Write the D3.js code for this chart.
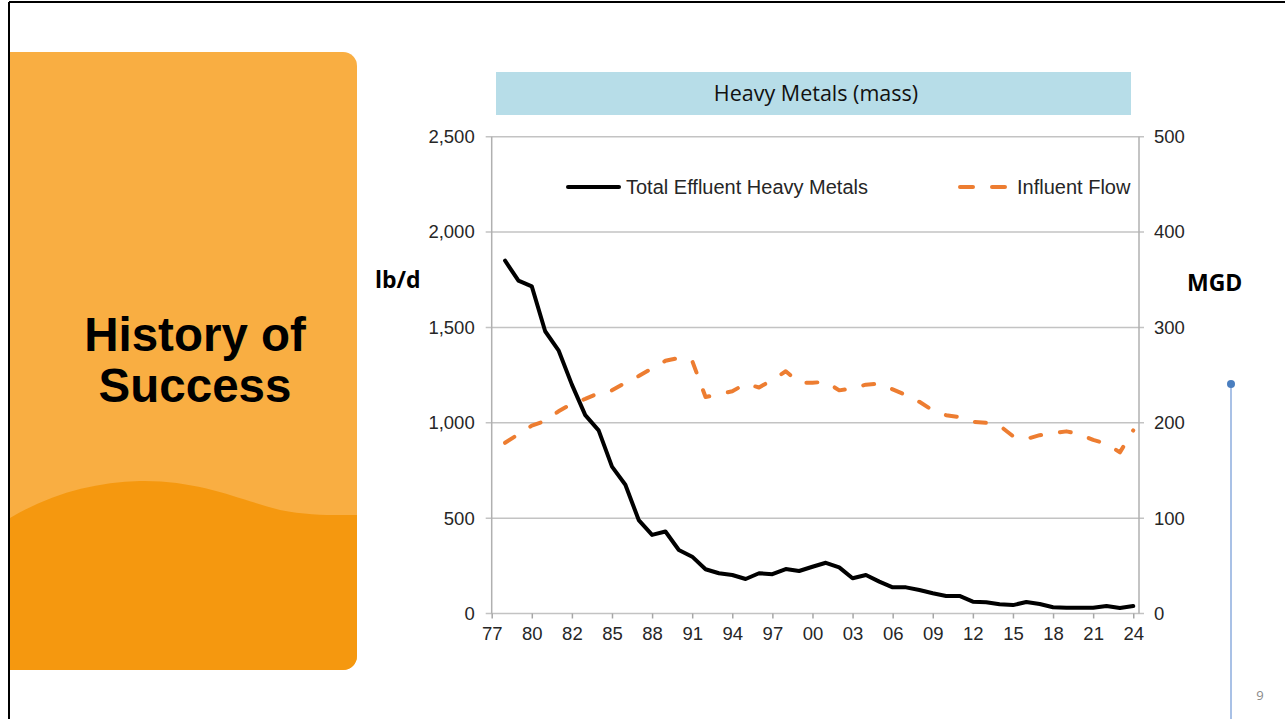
<!DOCTYPE html>
<html lang="en">
<head>
    <meta charset="UTF-8">
    <title>History of Success - Heavy Metals (mass)</title>
    <script src="https://d3js.org/d3.v7.min.js"></script>
    <style>
        body { margin: 0; background: #ffffff; }
        svg { display: block; }
        .chart text { font-family: "Liberation Sans", Arial, sans-serif; fill: #262626; }
        .axis path { display: none; }
        .axis line { stroke: #a6a6a6; stroke-width: 1.5px; }
        .grid line { stroke: #c3c3c3; stroke-width: 1.5px; }
    </style>
</head>
<body>
<div id="slide"></div>
<script>
    // x categories (one point per year) and axis labels as printed on the chart
    const years = [1977, 1978, 1979, 1980, 1981, 1982, 1983, 1984, 1985, 1986, 1987, 1988,
                   1989, 1990, 1991, 1992, 1993, 1994, 1995, 1996, 1997, 1998, 1999, 2000,
                   2001, 2002, 2003, 2004, 2005, 2006, 2007, 2008, 2009, 2010, 2011, 2012,
                   2013, 2014, 2015, 2016, 2017, 2018, 2019, 2020, 2021, 2022, 2023, 2024];
    const xTickLabels = ["77", "80", "82", "85", "88", "91", "94", "97", "00",
                         "03", "06", "09", "12", "15", "18", "21", "24"];

    // Total effluent heavy metals (lb/d, left axis)
    const heavyMetals = [1850, 1745, 1715, 1480, 1380, 1200, 1040, 960, 770, 675, 490, 412,
                         430, 333, 298, 232, 211, 202, 181, 211, 206, 233, 223, 245,
                         266, 242, 185, 202, 167, 137, 137, 123, 106, 92, 92, 62,
                         59, 48, 44, 60, 50, 33, 30, 30, 30, 39, 29, 39];

    // Influent flow (MGD, right axis)
    const influentFlow = [179, 188, 197, 202, 212, 220, 225, 231, 234, 242, 249, 257,
                          265, 268, 265, 227, 230, 233, 241, 237, 245, 254, 242, 242,
                          243, 234, 236, 240, 241, 235, 229, 222, 213, 208, 206, 201,
                          200, 197, 186, 183, 187, 189, 191, 188, 182, 178, 169, 192];

    const leftTicks = [0, 500, 1000, 1500, 2000, 2500];
    const rightTicks = [0, 100, 200, 300, 400, 500];

    const W = 1285, H = 719;
    const svg = d3.select("#slide").append("svg")
        .attr("width", W)
        .attr("height", H);

    // slide frame (top and left edges)
    svg.append("line").attr("x1", 9).attr("x2", W).attr("y1", 2).attr("y2", 2)
        .attr("stroke", "#000").attr("stroke-width", 2);
    svg.append("line").attr("x1", 9).attr("x2", 9).attr("y1", 2).attr("y2", H)
        .attr("stroke", "#000").attr("stroke-width", 2);

    // orange side panel with the darker wave at the bottom
    const panelPath = "M10,52 H343 A14,14 0 0 1 357,66 V656 A14,14 0 0 1 343,670 H10 Z";
    svg.append("clipPath").attr("id", "panelClip")
        .append("path").attr("d", panelPath);
    svg.append("path").attr("d", panelPath).attr("fill", "#f9ae42");
    svg.append("path")
        .attr("clip-path", "url(#panelClip)")
        .attr("d", "M10,518 C50,494 95,482 140,481 C200,480 240,500 280,510 C310,516 335,515 360,515 V680 H10 Z")
        .attr("fill", "#f5980f");

    svg.append("text")
        .attr("x", 195).attr("text-anchor", "middle")
        .style("font-family", "'Liberation Sans', Arial, sans-serif")
        .style("font-weight", "bold").style("font-size", "47.5px").attr("fill", "#000")
        .selectAll("tspan").data(["History of", "Success"]).join("tspan")
        .attr("x", 195).attr("y", (d, i) => 351 + i * 51).text(d => d);

    // right-hand decoration and page number
    svg.append("line").attr("x1", 1231).attr("x2", 1231).attr("y1", 384).attr("y2", H)
        .attr("stroke", "#a9c1e6").attr("stroke-width", 2);
    svg.append("circle").attr("cx", 1231).attr("cy", 384).attr("r", 4).attr("fill", "#4a7ebf");
    svg.append("text").attr("x", 1260).attr("y", 700).attr("text-anchor", "middle")
        .style("font-family", "'Open Sans', sans-serif").style("font-size", "13px")
        .attr("fill", "#8a8a8a").text("9");

    // title bar
    svg.append("rect").attr("x", 496).attr("y", 72).attr("width", 635).attr("height", 43)
        .attr("fill", "#b7dde8");
    svg.append("text").attr("x", 816).attr("y", 101).attr("text-anchor", "middle")
        .style("font-family", "'Open Sans', sans-serif").style("font-size", "21.5px")
        .attr("fill", "#111").text("Heavy Metals (mass)");

    // unit labels
    svg.append("text").attr("x", 375).attr("y", 288)
        .style("font-family", "'Open Sans', sans-serif").style("font-weight", "bold")
        .style("font-size", "23px").attr("fill", "#000").text("lb/d");
    svg.append("text").attr("x", 1187).attr("y", 291)
        .style("font-family", "'Open Sans', sans-serif").style("font-weight", "bold")
        .style("font-size", "23px").attr("fill", "#000").text("MGD");

    // chart
    const margin = {left: 491.7, top: 136.7};
    const width = 647.3, height = 476.8;
    const g = svg.append("g").attr("class", "chart")
        .attr("transform", "translate(" + margin.left + "," + margin.top + ")");

    const x = d3.scaleLinear().domain([1976, 2024.43]).range([0, width]);
    const yL = d3.scaleLinear().domain([0, 2500]).range([height, 0]);
    const yR = d3.scaleLinear().domain([0, 500]).range([height, 0]);
    const xTicks = xTickLabels.map((d, i) => 1976 + i * 3);

    // horizontal gridlines, running past both axes like tick marks
    g.append("g").attr("class", "grid")
        .selectAll("line").data(leftTicks).join("line")
        .attr("x1", -6).attr("x2", width + 5)
        .attr("y1", d => yL(d)).attr("y2", d => yL(d));

    // vertical axis lines
    g.append("line").attr("x1", 0).attr("x2", 0).attr("y1", 0).attr("y2", height)
        .attr("stroke", "#b0b0b0").attr("stroke-width", 1.5);
    g.append("line").attr("x1", width).attr("x2", width).attr("y1", 0).attr("y2", height)
        .attr("stroke", "#b0b0b0").attr("stroke-width", 1.5);

    g.append("g").attr("class", "axis")
        .call(d3.axisLeft(yL).tickValues(leftTicks).tickSize(0).tickPadding(17)
            .tickFormat(d3.format(",")))
        .selectAll("text").style("font-size", "18.5px");

    g.append("g").attr("class", "axis")
        .attr("transform", "translate(" + width + ",0)")
        .call(d3.axisRight(yR).tickValues(rightTicks).tickSize(0).tickPadding(15))
        .selectAll("text").style("font-size", "18.5px");

    g.append("g").attr("class", "axis")
        .attr("transform", "translate(0," + height + ")")
        .call(d3.axisBottom(x).tickValues(xTicks).tickSize(5).tickPadding(8)
            .tickFormat((d, i) => xTickLabels[i]))
        .selectAll("text").style("font-size", "18.5px");

    // lines
    const flowLine = d3.line()
        .x((d, i) => x(years[i]))
        .y(d => yR(d));
    const metalsLine = d3.line()
        .x((d, i) => x(years[i]))
        .y(d => yL(d));

    g.append("path").datum(influentFlow)
        .attr("d", flowLine)
        .attr("fill", "none")
        .attr("stroke", "#ed7d31")
        .attr("stroke-width", 4)
        .attr("stroke-linecap", "round")
        .attr("stroke-linejoin", "round")
        .attr("stroke-dasharray", "11,19");

    g.append("path").datum(heavyMetals)
        .attr("d", metalsLine)
        .attr("fill", "none")
        .attr("stroke", "#000")
        .attr("stroke-width", 4)
        .attr("stroke-linejoin", "round")
        .attr("stroke-linecap", "round");

    // legend
    const legend = svg.append("g").attr("class", "chart");
    legend.append("line").attr("x1", 568).attr("x2", 619).attr("y1", 187).attr("y2", 187)
        .attr("stroke", "#000").attr("stroke-width", 4).attr("stroke-linecap", "round");
    legend.append("text").attr("x", 626).attr("y", 194)
        .style("font-size", "20px").text("Total Effluent Heavy Metals");
    legend.append("line").attr("x1", 960).attr("x2", 1005).attr("y1", 187).attr("y2", 187)
        .attr("stroke", "#ed7d31").attr("stroke-width", 4).attr("stroke-linecap", "round")
        .attr("stroke-dasharray", "13,19");
    legend.append("text").attr("x", 1017).attr("y", 194)
        .style("font-size", "20px").text("Influent Flow");
</script>
</body>
</html>
